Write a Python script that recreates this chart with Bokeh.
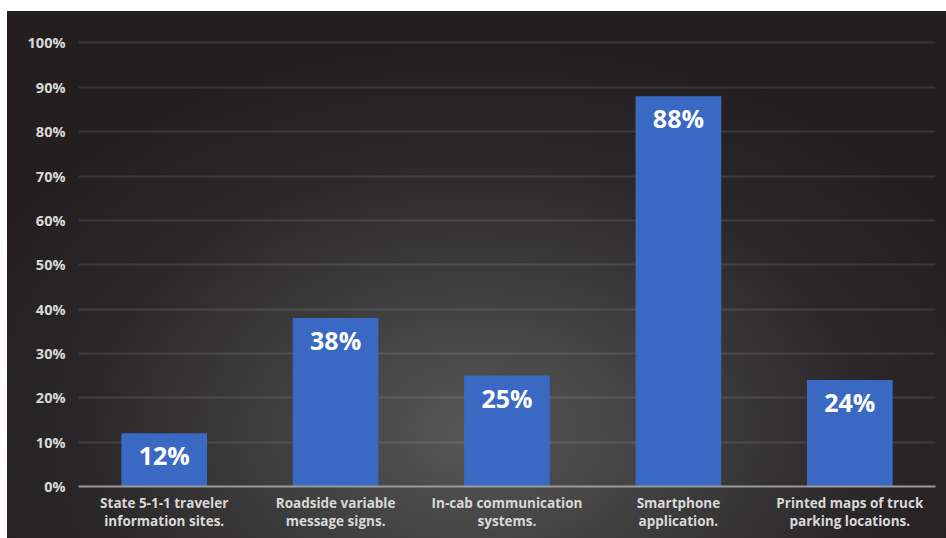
from bokeh.plotting import figure
from bokeh.models import ColumnDataSource, FixedTicker, PrintfTickFormatter
from bokeh.core.properties import value
from bokeh.embed import file_html
from bokeh.resources import INLINE

categories = [
    "State 5-1-1 traveler\ninformation sites.",
    "Roadside variable\nmessage signs.",
    "In-cab communication\nsystems.",
    "Smartphone\napplication.",
    "Printed maps of truck\nparking locations.",
]
values = [12, 38, 25, 88, 24]
bar_labels = ["12%", "38%", "25%", "88%", "24%"]
y_ticks = [0, 10, 20, 30, 40, 50, 60, 70, 80, 90, 100]

src = ColumnDataSource(data=dict(cat=categories, val=values, lab=bar_labels))

p = figure(
    x_range=categories, y_range=(0, 101),
    width=939, height=527, margin=(11, 0, 0, 7),
    output_backend="svg", toolbar_location=None,
    min_border_left=71, min_border_right=11, min_border_top=27, min_border_bottom=52,
    border_fill_alpha=0, background_fill_alpha=0,
    styles={"background": "radial-gradient(ellipse 60% 75% at 50% 80%, #575757 0%, #3d3c3c 40%, #2a2728 70%, #231f20 100%)"},
)
p.outline_line_color = None

p.vbar(x="cat", top="val", width=0.5, source=src, fill_color="#3a69c4", line_color=None)
p.text(x="cat", y="val", text="lab", source=src, text_align="center", text_baseline="top",
       y_offset=5, text_color="white", text_font=value("Open Sans"), text_font_style="bold",
       text_font_size="25px")

p.yaxis.ticker = FixedTicker(ticks=y_ticks)
p.yaxis.formatter = PrintfTickFormatter(format="%d%%")
p.yaxis.axis_line_color = None
p.yaxis.major_tick_line_color = None
p.yaxis.minor_tick_line_color = None
p.yaxis.major_label_standoff = 7
p.yaxis.major_label_text_color = "#d9d9d9"
p.yaxis.major_label_text_font = "Open Sans"
p.yaxis.major_label_text_font_style = "bold"
p.yaxis.major_label_text_font_size = "14.5px"

p.xaxis.axis_line_color = "#9a9a9a"
p.xaxis.axis_line_width = 2
p.xaxis.major_tick_line_color = None
p.xaxis.minor_tick_line_color = None
p.xaxis.major_label_standoff = 1
p.xaxis.major_label_text_color = "#d9d9d9"
p.xaxis.major_label_text_font = "Open Sans"
p.xaxis.major_label_text_font_style = "bold"
p.xaxis.major_label_text_font_size = "13.5px"
p.xaxis.major_label_text_line_height = 1.0

p.xgrid.grid_line_color = None
p.ygrid.grid_line_color = "white"
p.ygrid.grid_line_alpha = 0.1
p.ygrid.grid_line_width = 2

open("out.html", "w").write(file_html(p, INLINE))
